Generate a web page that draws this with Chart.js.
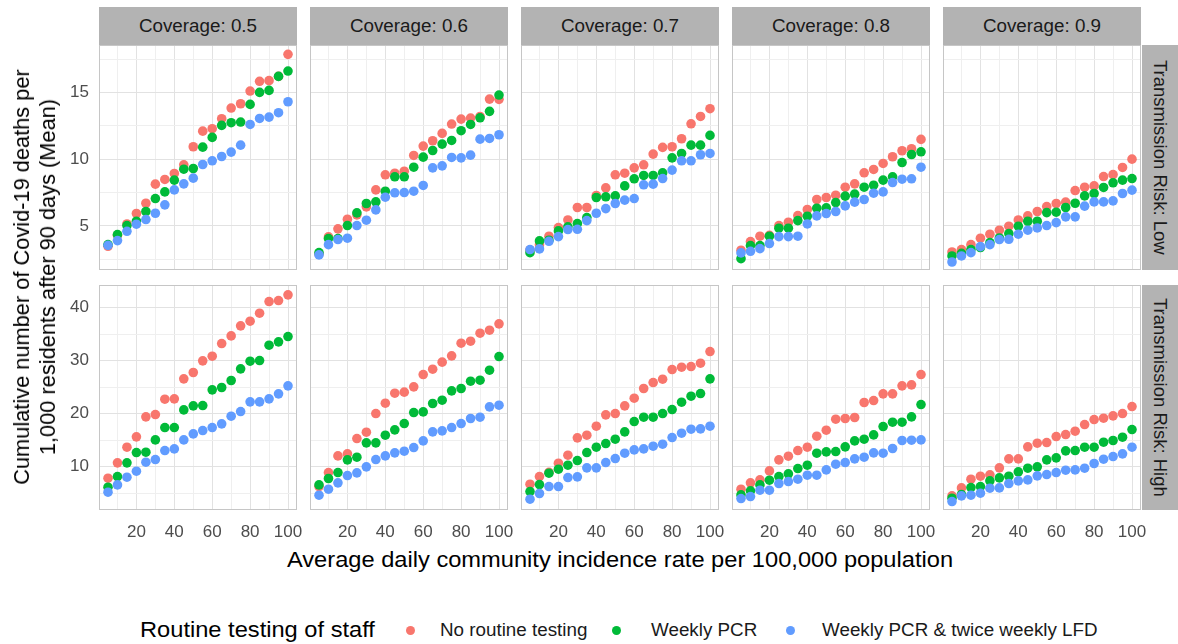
<!DOCTYPE html>
<html><head><meta charset="utf-8">
<script src="https://cdn.jsdelivr.net/npm/chart.js@4.4.0/dist/chart.umd.min.js"></script>
<style>
html,body{margin:0;padding:0;background:#fff;}
body{width:1178px;height:644px;position:relative;overflow:hidden;font-family:'Liberation Sans',Arial,sans-serif;}
.strip-top{position:absolute;background:#b3b3b3;color:#1a1a1a;display:flex;align-items:center;justify-content:center;}
.strip-top span{font-size:17.5px;display:inline-block;transform:scaleX(1.075);}
.strip-right{position:absolute;background:#b3b3b3;color:#1a1a1a;display:flex;align-items:center;justify-content:center;writing-mode:vertical-rl;font-size:18.5px;}
.txt{position:absolute;white-space:nowrap;color:#1a1a1a;}
.dot{position:absolute;border-radius:50%;}
</style></head><body>
<script>
// ---------- data ----------
const incidence = [5,10,15,20,25,30,35,40,45,50,55,60,65,70,75,80,85,90,95,100];
const coverageLabels = ['Coverage: 0.5','Coverage: 0.6','Coverage: 0.7','Coverage: 0.8','Coverage: 0.9'];
const riskLabels = ['Transmission Risk: Low','Transmission Risk: High'];
const strategyNames = ['No routine testing','Weekly PCR','Weekly PCR & twice weekly LFD'];
const strategyColors = ['#F8766D','#00BA38','#619CFF'];
const legendTitle = 'Routine testing of staff';
const xTitle = 'Average daily community incidence rate per 100,000 population';
const yTitleLines = ['Cumulative number of Covid-19 deaths per','1,000 residents after 90 days (Mean)'];

const xTickLabels = [20,40,60,80,100];
const xMinorTicks = [10,30,50,70,90];
const yTickLabelsLow = [5,10,15];
const yMinorLow = [2.5,7.5,12.5,17.5];
const yTickLabelsHigh = [10,20,30,40];
const yMinorHigh = [5,15,25,35];

// Transmission risk: Low
const low05None = [3.48,4.3,5.15,5.93,6.7,8.13,8.48,8.93,9.58,10.93,12.1,12.28,13.03,13.83,14.15,15.1,15.83,15.88,16.2,17.85];
const low05Pcr  = [3.6,4.35,5.03,5.35,6.08,7.05,7.55,8.43,9.25,9.3,10.9,11.63,12.53,12.73,12.78,14.1,15.0,15.15,16.2,16.6];
const low05Lfd  = [3.55,3.9,4.6,5.13,5.48,5.95,6.58,7.7,8.15,8.58,9.6,9.88,10.2,10.53,11.05,12.6,13.05,13.15,13.48,14.3];

const low06None = [2.9,4.18,4.78,5.5,5.83,6.43,7.7,8.83,8.95,9.1,10.28,10.98,11.38,11.93,12.63,13.0,13.08,13.2,14.5,14.48];
const low06Pcr  = [3.0,4.05,4.05,5.03,5.98,6.68,6.8,7.6,8.68,8.68,9.4,10.15,10.65,11.13,11.4,12.13,12.6,13.1,13.58,14.8];
const low06Lfd  = [2.83,3.6,3.98,4.08,5.03,5.43,6.2,7.15,7.48,7.5,7.6,8.03,9.35,9.5,10.13,10.1,10.3,11.5,11.55,11.83];

const low07None = [3.2,3.6,4.23,4.88,5.45,6.38,6.38,7.28,7.85,8.83,8.95,9.35,9.58,10.38,10.88,10.93,11.53,12.65,13.2,13.78];
const low07Pcr  = [3.0,3.88,3.93,4.63,4.93,5.18,5.63,7.13,7.18,7.25,8.0,8.53,8.78,8.78,8.98,10.1,10.43,11.05,11.05,11.78];
const low07Lfd  = [3.23,3.28,3.85,4.2,4.73,4.75,5.4,5.95,6.3,6.68,6.93,7.05,8.08,8.13,8.55,9.18,9.88,9.88,10.33,10.43];

const low08None = [3.18,3.83,4.23,4.3,5.03,5.28,5.78,6.23,6.98,7.13,7.3,7.9,8.15,8.98,9.23,9.68,10.18,10.63,10.78,11.48];
const low08Pcr  = [2.55,3.53,3.53,4.23,4.83,4.83,5.4,5.73,6.33,6.35,6.75,7.23,7.38,7.9,8.05,8.43,8.68,9.75,10.35,10.55];
const low08Lfd  = [2.98,3.1,3.3,3.68,4.2,4.2,4.23,5.15,5.75,5.93,6.08,6.5,6.78,6.98,7.45,7.55,8.25,8.5,8.53,9.4];

const low09None = [3.05,3.23,3.6,4.08,4.38,4.68,4.98,5.45,5.75,6.08,6.45,6.68,6.78,7.65,7.9,8.0,8.7,8.85,9.38,10.0];
const low09Pcr  = [2.75,2.95,3.23,3.38,3.75,4.1,4.43,4.98,5.35,5.35,6.0,6.03,6.38,6.7,7.25,7.43,7.88,8.23,8.43,8.55];
const low09Lfd  = [2.3,2.75,3.0,3.45,3.6,3.98,4.0,4.38,4.68,4.85,5.03,5.25,5.68,5.68,6.48,6.8,6.8,6.88,7.43,7.68];

// Transmission risk: High
const high05None = [7.8,10.7,13.65,15.6,19.37,19.81,22.7,22.77,26.54,27.74,29.94,30.82,33.2,34.65,36.54,37.42,38.93,41.13,41.32,42.39];
const high05Pcr  = [6.1,8.1,10.7,12.64,12.7,15.03,17.36,17.36,20.69,21.45,21.51,24.47,24.91,26.23,28.43,29.87,30.0,32.89,33.52,34.53];
const high05Lfd  = [5.16,6.54,7.99,9.12,10.82,11.32,13.02,13.33,15.03,16.16,16.79,17.36,18.05,19.5,20.38,22.2,22.2,22.77,23.71,25.22];

const high06None = [6.23,8.87,12.01,12.39,15.28,16.48,20.0,21.95,23.84,24.03,25.03,27.36,28.36,29.69,30.88,33.27,33.65,35.16,35.72,36.92];
const high06Pcr  = [6.54,7.74,8.87,11.26,11.76,14.47,14.47,15.91,16.92,18.11,20.19,20.31,21.89,22.52,24.28,24.72,26.1,26.29,28.18,30.75];
const high06Lfd  = [4.59,5.72,6.92,8.3,8.81,9.94,11.32,12.01,12.58,12.89,13.58,14.84,16.54,16.73,17.36,18.11,19.06,19.31,21.26,21.57];

const high07None = [6.67,8.11,8.9,10.63,12.14,15.41,15.91,17.61,19.75,20.0,21.45,22.89,24.72,25.85,26.48,28.3,28.74,28.87,29.5,31.7];
const high07Pcr  = [5.28,6.6,8.74,9.5,10.25,11.13,12.64,13.65,14.34,15.16,16.54,18.49,19.31,19.31,20.0,20.75,22.14,23.27,23.77,26.54];
const high07Lfd  = [3.84,4.91,6.23,6.23,7.92,8.05,9.75,9.75,10.75,11.51,12.52,13.14,13.33,13.84,14.21,15.47,16.29,17.04,17.11,17.61];

const high08None = [5.72,6.92,7.48,9.18,11.26,11.95,13.02,13.65,15.72,16.86,18.93,19.06,19.25,22.08,22.45,23.71,23.71,25.22,25.41,27.36];
const high08Pcr  = [4.65,5.41,6.54,7.42,8.11,8.62,9.62,10.25,12.52,12.77,12.83,13.71,14.84,15.16,15.97,17.55,18.36,18.36,19.37,21.7];
const high08Lfd  = [3.96,4.34,5.53,5.53,6.79,7.17,7.61,8.36,8.36,9.37,10.44,10.75,11.45,11.76,12.58,12.52,13.4,14.91,14.97,15.03];

const high09None = [4.47,5.97,7.61,8.18,8.43,9.75,11.45,11.45,13.71,14.4,14.53,15.66,16.04,16.67,17.92,18.87,19.12,19.56,20.0,21.32];
const high09Pcr  = [4.03,4.7,6.04,6.23,7.3,7.86,8.18,8.99,9.69,9.94,11.26,11.64,12.96,13.02,13.65,13.65,14.59,14.91,15.53,16.98];
const high09Lfd  = [3.4,4.47,4.59,4.97,5.91,5.97,6.79,7.3,7.48,8.24,8.49,8.87,9.31,9.37,9.69,10.57,11.38,11.89,12.39,13.65];

// ---------- assembly ----------
const panelSeries = [
  [[low05None,low05Pcr,low05Lfd],[low06None,low06Pcr,low06Lfd],[low07None,low07Pcr,low07Lfd],[low08None,low08Pcr,low08Lfd],[low09None,low09Pcr,low09Lfd]],
  [[high05None,high05Pcr,high05Lfd],[high06None,high06Pcr,high06Lfd],[high07None,high07Pcr,high07Lfd],[high08None,high08Pcr,high08Lfd],[high09None,high09Pcr,high09Lfd]]
];
const rowTicks = [
  {labels: yTickLabelsLow, minor: yMinorLow, min: 1.7, max: 18.55},
  {labels: yTickLabelsHigh, minor: yMinorHigh, min: 1.8, max: 44.25}
];

const FONT = "'Liberation Sans', Arial, sans-serif";
const MAJ = '#e2e2e2', MIN = '#efefef', BORDER = '#c6c6c6', TICKCOL = '#4d4d4d';
const colLeft = [99,310,521,732,943], panelW = 198;
const rowTop = [45,285], panelH = 225;
const L = 45, B = 36, R = 14;

const borderPlugin = {
  id: 'panelBorder',
  afterDatasetsDraw(chart){
    const a = chart.chartArea, ctx = chart.ctx;
    ctx.save(); ctx.strokeStyle = BORDER; ctx.lineWidth = 1;
    ctx.strokeRect(Math.round(a.left)+0.5, Math.round(a.top)+0.5, Math.round(a.right-a.left)-1, Math.round(a.bottom-a.top)-1);
    ctx.restore();
  }
};

function zeroPad(s){ s.paddingLeft = 0; s.paddingRight = 0; s.paddingTop = 0; s.paddingBottom = 0; }

function el(tag, cls, css, html){
  const e = document.createElement(tag);
  if (cls) e.className = cls;
  if (css) e.style.cssText = css;
  if (html !== undefined) e.innerHTML = html;
  document.body.appendChild(e);
  return e;
}

for (let r = 0; r < 2; r++){
  for (let c = 0; c < 5; c++){
    const extraR = (r === 1 ? R : 0);
    const w = panelW + (c === 0 ? L : 0) + extraR, h = panelH + (r === 1 ? B : 0);
    const cv = el('canvas', null, `position:absolute;left:${colLeft[c]-(c===0?L:0)}px;top:${rowTop[r]}px;width:${w}px;height:${h}px;`);
    cv.width = w; cv.height = h;
    const rt = rowTicks[r];
    const xAll = xMinorTicks.concat(xTickLabels).sort((a,b)=>a-b);
    const yAll = rt.minor.concat(rt.labels).sort((a,b)=>a-b);
    new Chart(cv, {
      type: 'scatter',
      data: {
        datasets: strategyNames.map((s, k) => ({
          label: s,
          data: incidence.map((x, i) => ({x: x, y: panelSeries[r][c][k][i]})),
          backgroundColor: strategyColors[k],
          borderWidth: 0,
          pointRadius: 4.8,
          pointHoverRadius: 4.8,
          pointBorderWidth: 0,
          order: 3 - k
        }))
      },
      options: {
        responsive: false, animation: false, events: [],
        layout: {padding: {left: 0, top: 0, bottom: 0, right: extraR}, autoPadding: false},
        plugins: {legend: {display: false}, tooltip: {enabled: false}},
        scales: {
          x: {
            type: 'linear', min: 0.25, max: 104.75,
            afterBuildTicks: s => { s.ticks = xAll.map(v => ({value: v})); },
            afterFit: s => { s.height = (r === 1 ? B : 0); zeroPad(s); },
            grid: {color: ctx => xTickLabels.includes(ctx.tick.value) ? MAJ : MIN, lineWidth: 1, drawTicks: false},
            border: {display: false},
            ticks: {display: r === 1, padding: 12, color: TICKCOL, font: {size: 17, family: FONT},
                    autoSkip: false, maxRotation: 0,
                    callback: v => xTickLabels.includes(v) ? String(v) : ''}
          },
          y: {
            type: 'linear', min: rt.min, max: rt.max,
            afterBuildTicks: s => { s.ticks = yAll.map(v => ({value: v})); },
            afterFit: s => { s.width = (c === 0 ? L : 0); zeroPad(s); },
            grid: {color: ctx => rt.labels.includes(ctx.tick.value) ? MAJ : MIN, lineWidth: 1, drawTicks: false},
            border: {display: false},
            ticks: {display: c === 0, padding: 10, color: TICKCOL, font: {size: 17, family: FONT},
                    autoSkip: false,
                    callback: v => rt.labels.includes(v) ? String(v) : ''}
          }
        }
      },
      plugins: [borderPlugin]
    });
  }
}

// strips
coverageLabels.forEach((t, c) => {
  el('div', 'strip-top', `left:${colLeft[c]}px;top:7px;width:${panelW}px;height:38px;`, `<span>${t}</span>`);
});
riskLabels.forEach((t, r) => {
  el('div', 'strip-right', `left:1142px;top:${rowTop[r]}px;width:36px;height:${panelH}px;`, t);
});

// axis titles
el('div', 'txt', `left:620px;top:560px;font-size:22px;transform:translate(-50%,-50%) scaleX(1.075);color:#000;`, xTitle);
el('div', 'txt', `left:35px;top:277px;font-size:21.8px;line-height:26px;text-align:center;transform:translate(-50%,-50%) rotate(-90deg);color:#000;`, yTitleLines.join('<br>'));

// legend
el('div', 'txt', `left:140px;top:630px;font-size:22px;transform-origin:left center;transform:translateY(-50%) scaleX(1.075);color:#000;`, legendTitle);
const legDot = [410, 616, 790], legText = [440, 651, 822];
strategyNames.forEach((s, k) => {
  el('div', 'dot', `left:${legDot[k]-4.5}px;top:${630-4.5}px;width:9px;height:9px;background:${strategyColors[k]};`);
  el('div', 'txt', `left:${legText[k]}px;top:630px;font-size:17.5px;transform-origin:left center;transform:translateY(-50%) scaleX(1.075);`, s.replace('&','&amp;'));
});
</script>
</body></html>
